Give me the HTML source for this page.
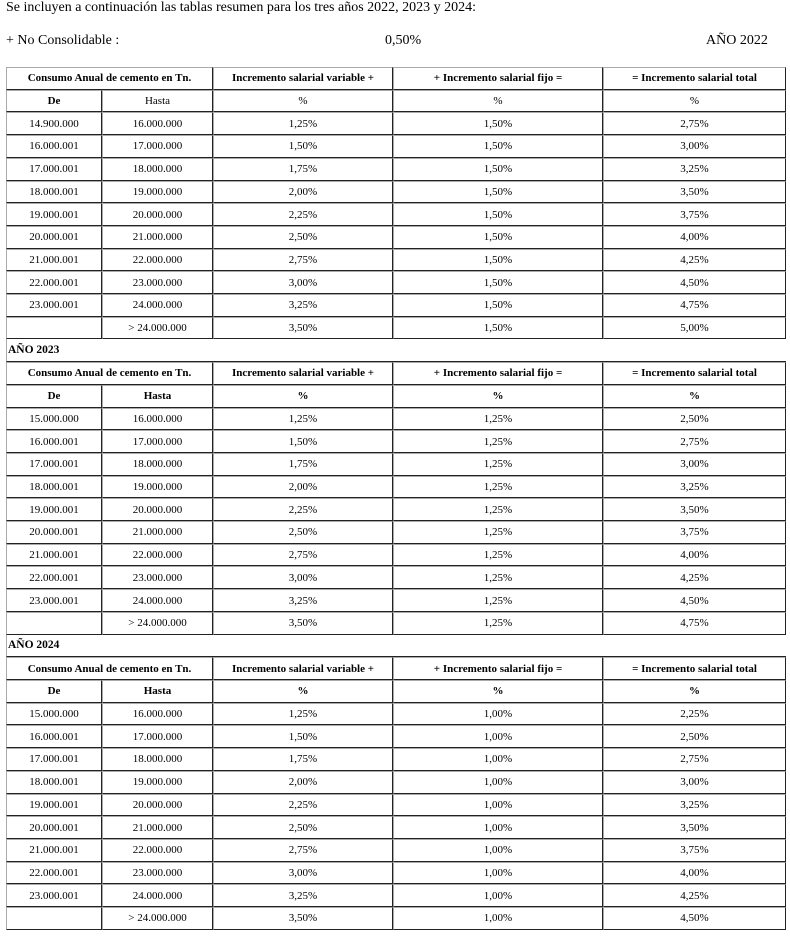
<!DOCTYPE html>
<html><head><meta charset="utf-8"><style>
body{margin:0;background:#fff;font-family:"Liberation Serif",serif;color:#000;width:790px;height:936px;overflow:hidden;position:relative}
.t{position:absolute;font-size:14px}
table{position:absolute;left:6px;top:67px;width:780px;border-collapse:separate;border-spacing:0;table-layout:fixed;font-size:11px}
tr{height:22.71px}
td{height:20.71px;line-height:12px;padding:0;text-align:center;border-top:1px solid #aaa;border-left:1px solid #aaa;border-right:1px solid #222;border-bottom:1px solid #222;box-sizing:content-box}
tr.h td{font-weight:bold}
td.y{text-align:left;font-weight:bold;border-top:none;border-right:none;border-bottom:1px solid #222;padding-left:1px;font-size:11.5px}
</style></head><body>
<div class="t" style="left:6px;top:0px">Se incluyen a continuación las tablas resumen para los tres años 2022, 2023 y 2024:</div>
<div class="t" style="left:6px;top:33px">+ No Consolidable :</div>
<div class="t" style="left:385px;top:33px">0,50%</div>
<div class="t" style="left:706px;top:33px">AÑO 2022</div>
<table>
<colgroup><col style="width:96px"><col style="width:111px"><col style="width:180px"><col style="width:210px"><col style="width:183px"></colgroup>
<tr class="h"><td colspan="2">Consumo Anual de cemento en Tn.</td><td>Incremento salarial variable +</td><td>+ Incremento salarial fijo =</td><td>= Incremento salarial total</td></tr>
<tr><td><b>De</b></td><td>Hasta</td><td>%</td><td>%</td><td>%</td></tr>
<tr><td>14.900.000</td><td>16.000.000</td><td>1,25%</td><td>1,50%</td><td>2,75%</td></tr>
<tr><td>16.000.001</td><td>17.000.000</td><td>1,50%</td><td>1,50%</td><td>3,00%</td></tr>
<tr><td>17.000.001</td><td>18.000.000</td><td>1,75%</td><td>1,50%</td><td>3,25%</td></tr>
<tr><td>18.000.001</td><td>19.000.000</td><td>2,00%</td><td>1,50%</td><td>3,50%</td></tr>
<tr><td>19.000.001</td><td>20.000.000</td><td>2,25%</td><td>1,50%</td><td>3,75%</td></tr>
<tr><td>20.000.001</td><td>21.000.000</td><td>2,50%</td><td>1,50%</td><td>4,00%</td></tr>
<tr><td>21.000.001</td><td>22.000.000</td><td>2,75%</td><td>1,50%</td><td>4,25%</td></tr>
<tr><td>22.000.001</td><td>23.000.000</td><td>3,00%</td><td>1,50%</td><td>4,50%</td></tr>
<tr><td>23.000.001</td><td>24.000.000</td><td>3,25%</td><td>1,50%</td><td>4,75%</td></tr>
<tr><td></td><td>&gt; 24.000.000</td><td>3,50%</td><td>1,50%</td><td>5,00%</td></tr>
<tr><td colspan="5" class="y">AÑO 2023</td></tr>
<tr class="h"><td colspan="2">Consumo Anual de cemento en Tn.</td><td>Incremento salarial variable +</td><td>+ Incremento salarial fijo =</td><td>= Incremento salarial total</td></tr>
<tr class="h"><td>De</td><td>Hasta</td><td>%</td><td>%</td><td>%</td></tr>
<tr><td>15.000.000</td><td>16.000.000</td><td>1,25%</td><td>1,25%</td><td>2,50%</td></tr>
<tr><td>16.000.001</td><td>17.000.000</td><td>1,50%</td><td>1,25%</td><td>2,75%</td></tr>
<tr><td>17.000.001</td><td>18.000.000</td><td>1,75%</td><td>1,25%</td><td>3,00%</td></tr>
<tr><td>18.000.001</td><td>19.000.000</td><td>2,00%</td><td>1,25%</td><td>3,25%</td></tr>
<tr><td>19.000.001</td><td>20.000.000</td><td>2,25%</td><td>1,25%</td><td>3,50%</td></tr>
<tr><td>20.000.001</td><td>21.000.000</td><td>2,50%</td><td>1,25%</td><td>3,75%</td></tr>
<tr><td>21.000.001</td><td>22.000.000</td><td>2,75%</td><td>1,25%</td><td>4,00%</td></tr>
<tr><td>22.000.001</td><td>23.000.000</td><td>3,00%</td><td>1,25%</td><td>4,25%</td></tr>
<tr><td>23.000.001</td><td>24.000.000</td><td>3,25%</td><td>1,25%</td><td>4,50%</td></tr>
<tr><td></td><td>&gt; 24.000.000</td><td>3,50%</td><td>1,25%</td><td>4,75%</td></tr>
<tr><td colspan="5" class="y">AÑO 2024</td></tr>
<tr class="h"><td colspan="2">Consumo Anual de cemento en Tn.</td><td>Incremento salarial variable +</td><td>+ Incremento salarial fijo =</td><td>= Incremento salarial total</td></tr>
<tr class="h"><td>De</td><td>Hasta</td><td>%</td><td>%</td><td>%</td></tr>
<tr><td>15.000.000</td><td>16.000.000</td><td>1,25%</td><td>1,00%</td><td>2,25%</td></tr>
<tr><td>16.000.001</td><td>17.000.000</td><td>1,50%</td><td>1,00%</td><td>2,50%</td></tr>
<tr><td>17.000.001</td><td>18.000.000</td><td>1,75%</td><td>1,00%</td><td>2,75%</td></tr>
<tr><td>18.000.001</td><td>19.000.000</td><td>2,00%</td><td>1,00%</td><td>3,00%</td></tr>
<tr><td>19.000.001</td><td>20.000.000</td><td>2,25%</td><td>1,00%</td><td>3,25%</td></tr>
<tr><td>20.000.001</td><td>21.000.000</td><td>2,50%</td><td>1,00%</td><td>3,50%</td></tr>
<tr><td>21.000.001</td><td>22.000.000</td><td>2,75%</td><td>1,00%</td><td>3,75%</td></tr>
<tr><td>22.000.001</td><td>23.000.000</td><td>3,00%</td><td>1,00%</td><td>4,00%</td></tr>
<tr><td>23.000.001</td><td>24.000.000</td><td>3,25%</td><td>1,00%</td><td>4,25%</td></tr>
<tr><td></td><td>&gt; 24.000.000</td><td>3,50%</td><td>1,00%</td><td>4,50%</td></tr>
</table>
</body></html>
